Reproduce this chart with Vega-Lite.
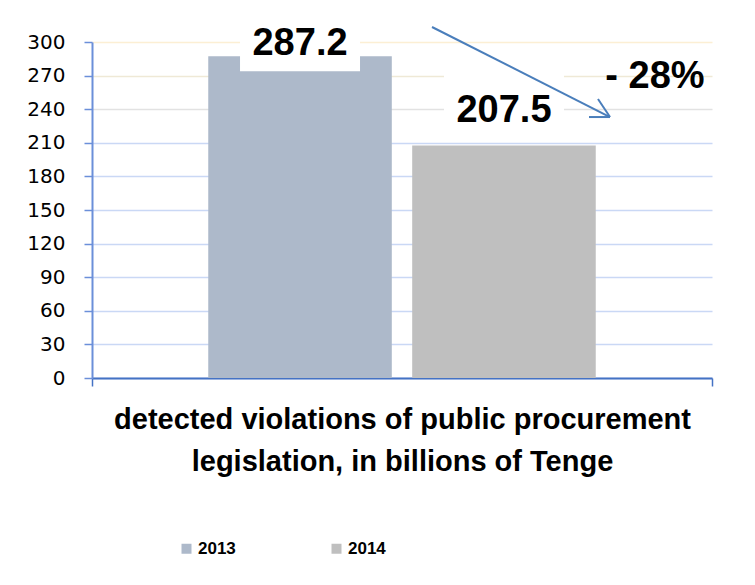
{
  "$schema": "https://vega.github.io/schema/vega-lite/v6.json",
  "width": 620,
  "height": 336,
  "autosize": "none",
  "padding": {"left": 92, "top": 42, "right": 43, "bottom": 207},
  "background": "white",
  "config": {
    "view": {"stroke": null},
    "font": "Liberation Sans",
    "axisY": {"labelFont": "DejaVu Sans", "labelFontSize": 20, "labelColor": "#000000"}
  },
  "layer": [
    {
      "data": {"values": [
        {"category": "detected violations of public procurement legislation, in billions of Tenge", "year": "2013", "value": 287.2},
        {"category": "detected violations of public procurement legislation, in billions of Tenge", "year": "2014", "value": 207.5}
      ]},
      "encoding": {
        "x": {
          "field": "category", "type": "nominal",
          "scale": {"paddingInner": 0, "paddingOuter": 0},
          "axis": {
            "title": null, "labelAngle": 0, "labelLimit": 700,
            "labelExpr": "[slice(datum.label,0,41), slice(datum.label,42)]",
            "labelFontSize": 29, "labelFontWeight": "bold", "labelColor": "#000000",
            "labelLineHeight": 42, "labelPadding": 19,
            "domainColor": "#4472c4", "domainWidth": 2,
            "ticks": true, "tickBand": "extent", "tickSize": 8, "tickColor": "#4472c4", "tickWidth": 1.5
          }
        },
        "xOffset": {"field": "year", "type": "nominal", "scale": {"paddingInner": 0.1, "paddingOuter": 0.57}},
        "y": {
          "field": "value", "type": "quantitative",
          "scale": {"domain": [0, 300], "nice": false},
          "axis": {
            "title": null,
            "values": [0, 30, 60, 90, 120, 150, 180, 210, 240, 270, 300],
            "labelOverlap": false,
            "labelFont": "DejaVu Sans",
            "labelFontSize": 20, "labelColor": "#000000", "labelPadding": 19,
            "domainColor": "#6b8fd9", "domainWidth": 2,
            "tickColor": "#6b8fd9", "tickSize": 8, "tickWidth": 1.5,
            "grid": true,
            "gridColor": {
              "condition": [
                {"test": "datum.value == 300", "value": "#fcefd4"},
                {"test": "datum.value == 270", "value": "#efe9d6"},
                {"test": "datum.value == 240", "value": "#e2e2e2"}
              ],
              "value": "#cad8f5"
            },
            "gridWidth": 1.5
          }
        }
      },
      "layer": [
        {
          "mark": {"type": "bar"},
          "encoding": {
            "color": {
              "field": "year", "type": "nominal",
              "scale": {"domain": ["2013", "2014"], "range": ["#adb9ca", "#bfbfbf"]},
              "legend": {
                "orient": "none", "legendX": 86, "legendY": 498,
                "direction": "horizontal", "title": null,
                "symbolType": "square", "symbolSize": 100, "symbolStrokeWidth": 0,
                "labelFontSize": 17, "labelFontWeight": "bold", "labelColor": "#000000",
                "columnPadding": 92, "labelOffset": 3
              }
            }
          }
        },
        {
          "transform": [{"filter": "datum.year == '2013'"}],
          "mark": {"type": "bar", "color": "white", "width": 120, "yOffset": -31, "y2Offset": 15},
          "encoding": {"y2": {"field": "value"}}
        },
        {
          "transform": [{"filter": "datum.year == '2014'"}],
          "mark": {"type": "bar", "color": "white", "width": 120, "yOffset": -74, "y2Offset": -16},
          "encoding": {"y2": {"field": "value"}}
        },
        {
          "transform": [{"filter": "datum.year == '2013'"}],
          "mark": {"type": "text", "fontSize": 38, "fontWeight": "bold", "baseline": "alphabetic", "dy": -1, "color": "#000000"},
          "encoding": {"text": {"field": "value", "type": "quantitative", "format": ".1f"}}
        },
        {
          "transform": [{"filter": "datum.year == '2014'"}],
          "mark": {"type": "text", "fontSize": 38, "fontWeight": "bold", "baseline": "alphabetic", "dy": -24, "color": "#000000"},
          "encoding": {"text": {"field": "value", "type": "quantitative", "format": ".1f"}}
        }
      ]
    },
    {
      "layer": [
        {
          "data": {"values": [
            {"seg": "shaft", "px": 0.5484, "py": 313.4, "ord": 0},
            {"seg": "shaft", "px": 0.8355, "py": 233.0, "ord": 1},
            {"seg": "head1", "px": 0.8161, "py": 249.1, "ord": 0},
            {"seg": "head1", "px": 0.8355, "py": 233.0, "ord": 1},
            {"seg": "head2", "px": 0.8016, "py": 233.0, "ord": 0},
            {"seg": "head2", "px": 0.8355, "py": 233.0, "ord": 1}
          ]},
          "mark": {"type": "line", "color": "#4a7ebb", "strokeWidth": 2},
          "encoding": {
            "x": {"field": "px", "type": "quantitative", "scale": {"domain": [0, 1], "nice": false, "zero": false}, "axis": null},
            "y": {"field": "py", "type": "quantitative", "axis": null},
            "detail": {"field": "seg"},
            "order": {"field": "ord"}
          }
        },
        {
          "data": {"values": [{"label": "- 28%", "px": 0.908, "py": 258.9}]},
          "mark": {"type": "text", "fontSize": 38, "fontWeight": "bold", "baseline": "alphabetic", "align": "center", "color": "#000000"},
          "encoding": {
            "x": {"field": "px", "type": "quantitative", "scale": {"domain": [0, 1], "nice": false, "zero": false}, "axis": null},
            "y": {"field": "py", "type": "quantitative", "axis": null},
            "text": {"field": "label"}
          }
        }
      ]
    }
  ],
  "resolve": {"scale": {"x": "independent"}, "axis": {"y": "independent"}}
}
